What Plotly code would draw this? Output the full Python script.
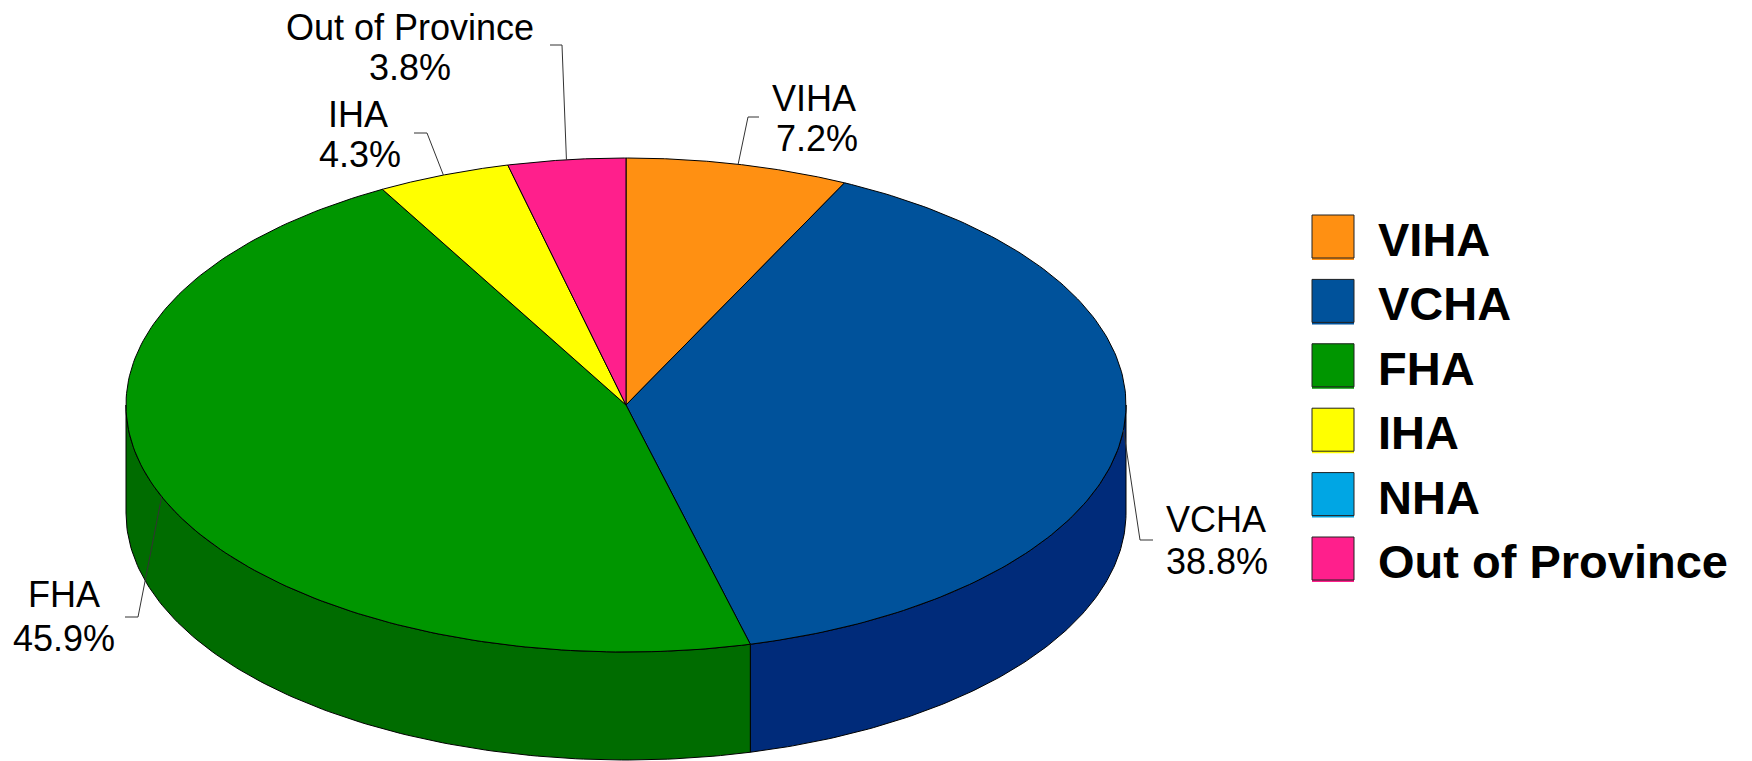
import numpy as np
import plotly.graph_objects as go

# ---- data ----
categories = ["VIHA", "VCHA", "FHA", "IHA", "NHA", "Out of Province"]
shares = [7.2, 38.8, 45.9, 4.3, 0.0, 3.8]
share_labels = ["7.2%", "38.8%", "45.9%", "4.3%", "0.0%", "3.8%"]
top_colors = ["#FF9012", "#00529B", "#009600", "#FFFF00", "#00A6E4", "#FF1F8C"]
side_colors = ["#B86800", "#002B7A", "#006C00", "#B8B800", "#0078A8", "#B8005E"]

# ---- layout constants (pixels; the axes are 1:1 with the canvas) ----
W, H = 1752, 761
CX, CY, RX, RY, DEPTH = 626, 405, 500, 247, 108
label_pos = {
    "VIHA": ((814, 98), (817, 138)),
    "VCHA": ((1216, 519), (1217, 561)),
    "FHA": ((64, 594), (64, 638)),
    "IHA": ((358, 114), (360, 154)),
    "Out of Province": ((410, 27), (410, 67)),
}
leader_elbows = {
    "VIHA": ((748, 117), (759, 117)),
    "VCHA": ((1140, 540), (1153, 540)),
    "FHA": ((138, 617), (125, 617)),
    "IHA": ((427, 133), (414, 133)),
    "Out of Province": ((562, 45), (550, 45)),
}
LEG_X0, LEG_X1, LEG_Y0, LEG_H, LEG_STEP, LEG_TX = 1312, 1354, 215, 43, 64.4, 1376


def px(theta):
    return CX + RX * np.sin(theta)


def py(theta, drop=0.0):
    return CY - RY * np.cos(theta) + drop


fig = go.Figure()
bounds = np.cumsum([0.0] + shares) / 100 * 2 * np.pi

# side walls: only the front half of the rim is visible
for i, name in enumerate(categories):
    a = max(bounds[i], np.pi / 2)
    b = min(bounds[i + 1], 3 * np.pi / 2)
    if b <= a:
        continue
    t = np.linspace(a, b, 120)
    xs = np.r_[px(t), px(t[::-1])]
    ys = np.r_[py(t), py(t[::-1], DEPTH)]
    fig.add_trace(go.Scatter(x=np.r_[xs, xs[0]], y=np.r_[ys, ys[0]], mode="lines", fill="toself",
                             fillcolor=side_colors[i], line=dict(color="#000000", width=1),
                             name=name, hoverinfo="skip"))

# top face
for i, name in enumerate(categories):
    if shares[i] <= 0:
        continue
    t = np.linspace(bounds[i], bounds[i + 1], 160)
    xs = np.r_[CX, px(t), CX]
    ys = np.r_[CY, py(t), CY]
    fig.add_trace(go.Scatter(x=xs, y=ys, mode="lines", fill="toself", fillcolor=top_colors[i],
                             line=dict(color="#000000", width=1), name=name,
                             text=f"{name} {share_labels[i]}", hoverinfo="text"))

# leaders and labels
annotations = []
for i, name in enumerate(categories):
    if name not in label_pos:
        continue
    mid = (bounds[i] + bounds[i + 1]) / 2
    e1, e2 = leader_elbows[name]
    fig.add_trace(go.Scatter(x=[px(mid), e1[0], e2[0]], y=[py(mid), e1[1], e2[1]], mode="lines",
                             line=dict(color="#333333", width=1), hoverinfo="skip"))
    for text, (x, y) in zip((name, share_labels[i]), label_pos[name]):
        annotations.append(dict(x=x, y=y, xref="x", yref="y", text=text, showarrow=False,
                                xanchor="center", yanchor="middle",
                                font=dict(family="Liberation Sans", size=36, color="#000000")))

# legend
shapes = []
for i, name in enumerate(categories):
    y0 = LEG_Y0 + i * LEG_STEP
    shapes.append(dict(type="rect", xref="x", yref="y", x0=LEG_X0, x1=LEG_X1, y0=y0, y1=y0 + LEG_H + 2,
                       fillcolor=top_colors[i], line=dict(width=0), layer="above"))
    shapes.append(dict(type="rect", xref="x", yref="y", x0=LEG_X0, x1=LEG_X1, y0=y0, y1=y0 + LEG_H,
                       fillcolor=top_colors[i], line=dict(color="#222222", width=1), layer="above"))
    annotations.append(dict(x=LEG_TX, y=y0 + LEG_H / 2 + 3, xref="x", yref="y", text=f"<b>{name}</b>",
                            showarrow=False, xanchor="left", yanchor="middle",
                            font=dict(family="Liberation Sans", size=47, color="#000000")))

fig.update_layout(
    width=W, height=H, margin=dict(l=0, r=0, t=0, b=0), paper_bgcolor="#FFFFFF", plot_bgcolor="#FFFFFF",
    showlegend=False, shapes=shapes, annotations=annotations,
    xaxis=dict(range=[0, W], visible=False, fixedrange=True),
    yaxis=dict(range=[H, 0], visible=False, fixedrange=True),
)
fig.write_html("out.html", config=dict(displayModeBar=False),
               post_script="document.body.style.margin='0';document.body.style.overflow='hidden';")
